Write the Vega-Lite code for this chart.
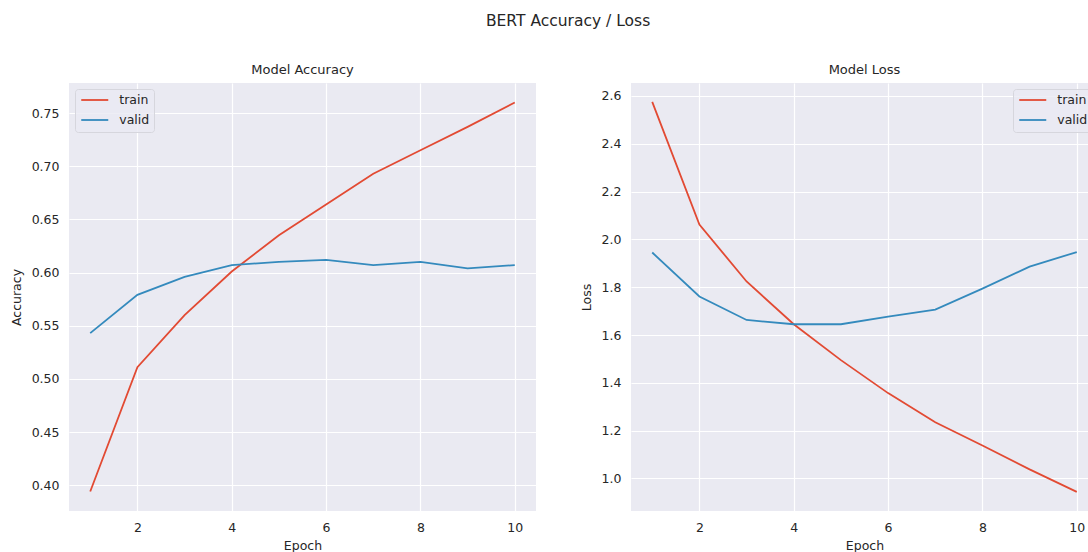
{
  "$schema": "https://vega.github.io/schema/vega-lite/v6.json",
  "padding": {"left": 10, "top": 13, "right": 0, "bottom": 0},
  "background": "white",
  "title": {
    "text": "BERT Accuracy / Loss",
    "fontSize": 15.5,
    "fontWeight": "normal",
    "color": "#262626",
    "anchor": "middle",
    "dx": 14,
    "offset": 35
  },
  "datasets": {
    "history": [
      {"epoch": 1, "split": "train", "accuracy": 0.394, "loss": 2.575},
      {"epoch": 2, "split": "train", "accuracy": 0.511, "loss": 2.062},
      {"epoch": 3, "split": "train", "accuracy": 0.560, "loss": 1.824},
      {"epoch": 4, "split": "train", "accuracy": 0.601, "loss": 1.645},
      {"epoch": 5, "split": "train", "accuracy": 0.635, "loss": 1.495},
      {"epoch": 6, "split": "train", "accuracy": 0.664, "loss": 1.357},
      {"epoch": 7, "split": "train", "accuracy": 0.693, "loss": 1.235},
      {"epoch": 8, "split": "train", "accuracy": 0.715, "loss": 1.138},
      {"epoch": 9, "split": "train", "accuracy": 0.737, "loss": 1.038},
      {"epoch": 10, "split": "train", "accuracy": 0.760, "loss": 0.944},
      {"epoch": 1, "split": "valid", "accuracy": 0.543, "loss": 1.945},
      {"epoch": 2, "split": "valid", "accuracy": 0.579, "loss": 1.761},
      {"epoch": 3, "split": "valid", "accuracy": 0.596, "loss": 1.663},
      {"epoch": 4, "split": "valid", "accuracy": 0.607, "loss": 1.645},
      {"epoch": 5, "split": "valid", "accuracy": 0.610, "loss": 1.645},
      {"epoch": 6, "split": "valid", "accuracy": 0.612, "loss": 1.677},
      {"epoch": 7, "split": "valid", "accuracy": 0.607, "loss": 1.706},
      {"epoch": 8, "split": "valid", "accuracy": 0.610, "loss": 1.794},
      {"epoch": 9, "split": "valid", "accuracy": 0.604, "loss": 1.886},
      {"epoch": 10, "split": "valid", "accuracy": 0.607, "loss": 1.947}
    ]
  },
  "data": {"name": "history"},
  "bounds": "flush",
  "spacing": 95,
  "resolve": {"legend": {"color": "independent"}},
  "hconcat": [
    {
      "width": 467,
      "height": 428,
      "title": {"text": "Model Accuracy", "fontSize": 13, "fontWeight": "normal", "color": "#262626", "offset": 6},
      "mark": {"type": "line", "strokeWidth": 1.8},
      "encoding": {
        "x": {
          "field": "epoch", "type": "quantitative", "title": "Epoch",
          "scale": {"domain": [0.55, 10.45], "nice": false, "zero": false},
          "axis": {"values": [2, 4, 6, 8, 10]}
        },
        "y": {
          "field": "accuracy", "type": "quantitative", "title": "Accuracy",
          "scale": {"domain": [0.3757, 0.7783], "nice": false, "zero": false},
          "axis": {"values": [0.40, 0.45, 0.50, 0.55, 0.60, 0.65, 0.70, 0.75], "format": ".2f"}
        },
        "color": {
          "field": "split", "type": "nominal",
          "scale": {"domain": ["train", "valid"], "range": ["#E24A33", "#348ABD"]},
          "legend": {"orient": "top-left"}
        }
      }
    },
    {
      "width": 467,
      "height": 428,
      "title": {"text": "Model Loss", "fontSize": 13, "fontWeight": "normal", "color": "#262626", "offset": 6},
      "mark": {"type": "line", "strokeWidth": 1.8},
      "encoding": {
        "x": {
          "field": "epoch", "type": "quantitative", "title": "Epoch",
          "scale": {"domain": [0.55, 10.45], "nice": false, "zero": false},
          "axis": {"values": [2, 4, 6, 8, 10]}
        },
        "y": {
          "field": "loss", "type": "quantitative", "title": "Loss",
          "scale": {"domain": [0.864, 2.654], "nice": false, "zero": false},
          "axis": {"values": [1.0, 1.2, 1.4, 1.6, 1.8, 2.0, 2.2, 2.4, 2.6], "format": ".1f"}
        },
        "color": {
          "field": "split", "type": "nominal",
          "scale": {"domain": ["train", "valid"], "range": ["#E24A33", "#348ABD"]},
          "legend": {"orient": "top-right"}
        }
      }
    }
  ],
  "config": {
    "font": "DejaVu Sans",
    "view": {"fill": "#EAEAF2", "stroke": null},
    "axis": {
      "domain": false,
      "ticks": false,
      "grid": true,
      "gridColor": "#FFFFFF",
      "gridWidth": 1.2,
      "gridOpacity": 1,
      "labelFont": "DejaVu Sans",
      "labelFontSize": 12.5,
      "labelColor": "#262626",
      "labelPadding": 10,
      "titleFont": "DejaVu Sans",
      "titleFontSize": 12.5,
      "titleFontWeight": "normal",
      "titleColor": "#262626"
    },
    "axisY": {"titlePadding": 8},
    "axisX": {"titlePadding": 6},
    "legend": {
      "title": null,
      "offset": 6,
      "padding": 4.75,
      "fillColor": "rgba(234,234,242,0.8)",
      "strokeColor": "#D6D6DD",
      "cornerRadius": 3,
      "symbolType": "M-0.95,0H4.45",
      "symbolSize": 100,
      "symbolStrokeWidth": 1.8,
      "labelFont": "DejaVu Sans",
      "labelFontSize": 12.5,
      "labelColor": "#262626",
      "labelOffset": 27,
      "rowPadding": 7
    }
  }
}
